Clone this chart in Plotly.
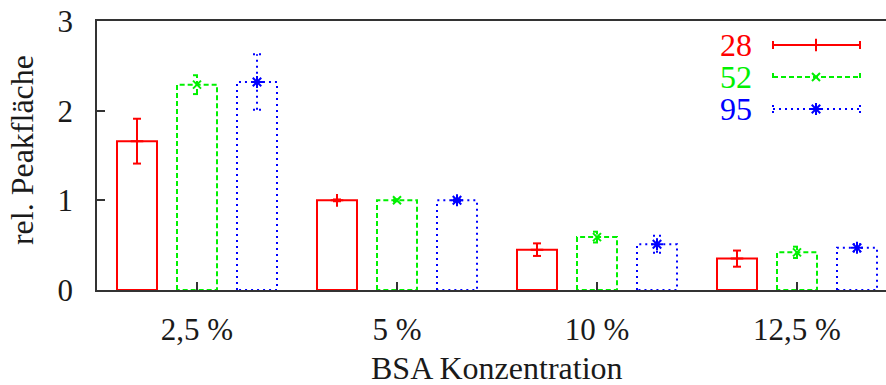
import plotly.graph_objects as go

# BSA concentration groups and the three series (relative peak area, with error)
groups = ["2,5 %", "5 %", "10 %", "12,5 %"]
series_names = ["28", "52", "95"]

values_28 = [1.66, 1.00, 0.45, 0.35]
errors_28 = [0.25, 0.01, 0.07, 0.09]
values_52 = [2.29, 1.00, 0.59, 0.42]
errors_52 = [0.105, 0.01, 0.06, 0.063]
values_95 = [2.32, 1.00, 0.51, 0.47]
errors_95 = [0.31, 0.01, 0.095, 0.04]

y_ticks = [0, 1, 2, 3]

# style per series: colour, dash pattern, marker symbol
styles = [
    dict(color="#ff0000", dash="solid", symbol="cross-thin", msize=9),
    dict(color="#00f000", dash="5px,3px", symbol="x-thin", msize=8),
    dict(color="#0000ff", dash="2px,4px", symbol="asterisk", msize=10),
]
all_values = [values_28, values_52, values_95]
all_errors = [errors_28, errors_52, errors_95]

offsets = [-0.3, 0.0, 0.3]
half_w = 0.1
cap = 0.02
FONT = "Liberation Serif"
TXT = "#1a1a1a"

fig = go.Figure()

for k, (vals, errs, st) in enumerate(zip(all_values, all_errors, styles)):
    bx, by = [], []
    ex, ey = [], []
    mx, my = [], []
    for i, (v, e) in enumerate(zip(vals, errs)):
        c = i + offsets[k]
        # open box outline
        bx += [c - half_w, c - half_w, c + half_w, c + half_w, c - half_w, None]
        by += [0, v, v, 0, 0, None]
        # error bar with caps
        ex += [c, c, None, c - cap, c + cap, None, c - cap, c + cap, None]
        ey += [v - e, v + e, None, v - e, v - e, None, v + e, v + e, None]
        mx.append(c)
        my.append(v)
    fig.add_trace(go.Scatter(x=bx, y=by, mode="lines", hoverinfo="skip",
                             line=dict(color=st["color"], width=2, dash=st["dash"]),
                             showlegend=False))
    fig.add_trace(go.Scatter(x=ex, y=ey, mode="lines", hoverinfo="skip",
                             line=dict(color=st["color"], width=2, dash=st["dash"]),
                             showlegend=False))
    fig.add_trace(go.Scatter(x=mx, y=my, mode="markers", name=series_names[k],
                             marker=dict(symbol=st["symbol"], size=st["msize"],
                                         color=st["color"],
                                         line=dict(color=st["color"], width=2)),
                             showlegend=False))

# key drawn in pixel space on an overlay axis pair
key_rows = [45, 77, 109]
kx0, kx1, kxm, ktext = 773, 860, 816, 754
for name, st, ky in zip(series_names, styles, key_rows):
    fig.add_trace(go.Scatter(
        x=[kx0, kx1, None, kx0, kx0, None, kx1, kx1],
        y=[ky, ky, None, ky - 4, ky + 4, None, ky - 4, ky + 4],
        mode="lines", xaxis="x2", yaxis="y2", hoverinfo="skip",
        line=dict(color=st["color"], width=2, dash=st["dash"]), showlegend=False))
    fig.add_trace(go.Scatter(
        x=[kxm], y=[ky], mode="markers", xaxis="x2", yaxis="y2", hoverinfo="skip",
        marker=dict(symbol=st["symbol"], size=st["msize"], color=st["color"],
                    line=dict(color=st["color"], width=2)), showlegend=False))
    fig.add_annotation(x=ktext, y=ky, xref="x2", yref="y2", text=name,
                       showarrow=False, xanchor="right", yanchor="middle",
                       height=30, valign="middle",
                       font=dict(family=FONT, size=32, color=st["color"]))

fig.add_annotation(text="rel. Peakfläche", textangle=-90, showarrow=False,
                   xref="paper", yref="paper", x=(22 - 97) / 789, y=0.52,
                   xanchor="center", yanchor="middle",
                   font=dict(family=FONT, size=32, color=TXT))
fig.add_annotation(text="BSA Konzentration", showarrow=False,
                   xref="paper", yref="paper", x=(497 - 97) / 789, y=(290 - 368) / 269,
                   xanchor="center", yanchor="middle",
                   font=dict(family=FONT, size=32, color=TXT))

fig.update_layout(
    width=886, height=385,
    margin=dict(l=97, r=0, t=21, b=95),
    paper_bgcolor="white", plot_bgcolor="white",
    showlegend=False,
    font=dict(family=FONT, size=31, color=TXT),
    xaxis=dict(range=[-0.5, -0.5 + 789 / 200], tickvals=list(range(len(groups))),
               ticktext=groups, ticks="inside", ticklen=8, tickwidth=1.5,
               tickcolor="#333", showgrid=False, zeroline=False,
               showline=True, linecolor="#333", linewidth=1.5, mirror=True,
               ticklabelstandoff=11, tickfont=dict(family=FONT, size=31, color=TXT)),
    yaxis=dict(range=[0, 3], tickvals=y_ticks, ticks="inside", ticklen=8,
               tickwidth=1.5, tickcolor="#333", showgrid=False, zeroline=False,
               showline=True, linecolor="#333", linewidth=1.5,
               ticklabelstandoff=16, tickfont=dict(family=FONT, size=31, color=TXT)),
    xaxis2=dict(range=[97, 886], overlaying="x", visible=False),
    yaxis2=dict(range=[290, 21], overlaying="y", visible=False),
)

fig.write_html("out.html")
